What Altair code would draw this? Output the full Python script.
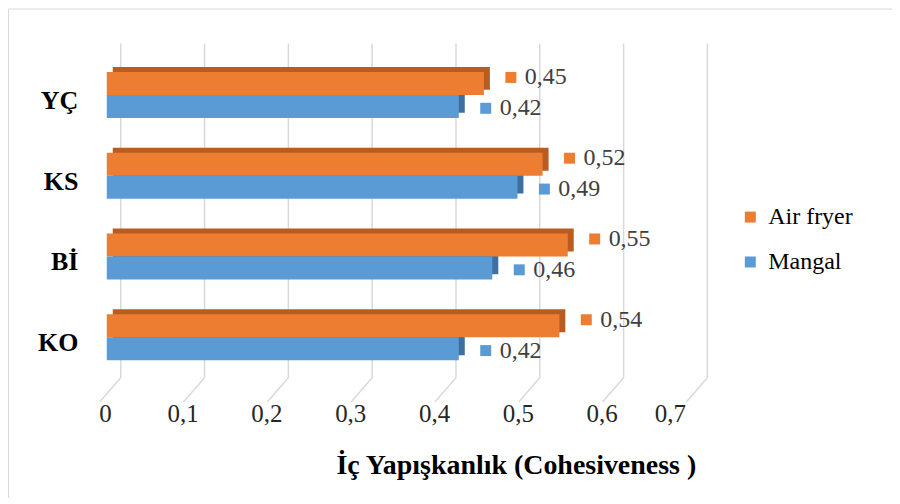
import altair as alt
import pandas as pd

categories = ["YÇ", "KS", "Bİ", "KO"]
air_fryer = [0.45, 0.52, 0.55, 0.54]
mangal = [0.42, 0.49, 0.46, 0.42]
series = ["Air fryer", "Mangal"]
tick_values = [0, 0.1, 0.2, 0.3, 0.4, 0.5, 0.6, 0.7]
x_title = "İç Yapışkanlık (Cohesiveness )"

rows = []
for c, a, m in zip(categories, air_fryer, mangal):
    rows.append({"cat": c, "series": "Air fryer", "v": a})
    rows.append({"cat": c, "series": "Mangal", "v": m})
df = pd.DataFrame(rows)
grid_df = pd.DataFrame({"v": tick_values})
one_df = pd.DataFrame({"a": [0]})

FONT = "Liberation Serif"
FRONT = ["#ED7D31", "#5B9BD5"]
DARK = ["#B85C22", "#3E6F9E"]

xscale = alt.Scale(domain=[0, 0.7], nice=False, zero=True)
yscale = alt.Scale(paddingInner=0.43, paddingOuter=0.315)

base = alt.Chart(df)

front_bars = base.mark_bar().encode(
    x=alt.X("v:Q", scale=xscale,
            axis=alt.Axis(values=tick_values, format=".1~f",
                          labelExpr="replace(datum.label, '.', ',')",
                          labelFont=FONT, labelFontSize=25, labelColor="#262626",
                          labelPadding=16, labelOffset=-8, ticks=False, tickSize=0,
                          domain=False, grid=False,
                          title=x_title, titleFont=FONT, titleFontSize=28,
                          titleFontWeight="bold", titleColor="#000000",
                          titleX=410, titleY=80, titleBaseline="middle",
                          titleAnchor="middle", titleAlign="center")),
    y=alt.Y("cat:N", sort=categories, scale=yscale,
            axis=alt.Axis(title=None, labelFont=FONT, labelFontSize=26,
                          labelFontWeight="bold", labelColor="#000000",
                          labelPadding=29, labelOffset=6, ticks=False, tickSize=0,
                          domain=False, grid=False)),
    yOffset=alt.YOffset("series:N", sort=series,
                        scale=alt.Scale(paddingInner=0, paddingOuter=0)),
    color=alt.Color("series:N", scale=alt.Scale(domain=series, range=FRONT),
                    legend=alt.Legend(orient="none", legendX=633, legendY=159,
                                      title=None, labelFont=FONT, labelFontSize=24,
                                      labelColor="#000000", symbolType="square",
                                      symbolSize=121, symbolStrokeWidth=0,
                                      rowPadding=21, labelOffset=6)),
)

border = alt.Chart(one_df).mark_rect(
    fillOpacity=0, stroke="#D9D9D9", strokeWidth=1
).encode(
    x=alt.value(-98.5), x2=alt.value(2000), y=alt.value(-37.5), y2=alt.value(2000)
)

grid_v = alt.Chart(grid_df).mark_rule(
    color="#D9D9D9", strokeWidth=1.5, xOffset=14
).encode(
    x=alt.X("v:Q", scale=xscale),
    y=alt.value(-3), y2=alt.value(332),
)

grid_s = alt.Chart(grid_df).mark_rule(
    color="#D9D9D9", strokeWidth=1.5, xOffset=14, x2Offset=-7
).encode(
    x=alt.X("v:Q", scale=xscale),
    x2=alt.X2("v:Q"),
    y=alt.value(332), y2=alt.value(356),
)

dark_bars = base.mark_bar(xOffset=6, x2Offset=2).encode(
    x=alt.X("v:Q", scale=xscale),
    y=alt.Y("cat:N", sort=categories, scale=yscale),
    yOffset=alt.YOffset("series:N", sort=series,
                        scale=alt.Scale(range=[-5, 41], paddingInner=0, paddingOuter=0)),
    color=alt.Color("series:N", scale=alt.Scale(domain=series, range=DARK), legend=None),
)

label_layers = []
for s, col, bp in [("Air fryer", FRONT[0], 0.12), ("Mangal", FRONT[1], 0.79)]:
    sub = base.transform_filter(alt.datum.series == s)
    sq = sub.mark_square(size=121, xOffset=27, color=col, opacity=1).encode(
        x=alt.X("v:Q", scale=xscale),
        y=alt.Y("cat:N", sort=categories, scale=yscale, bandPosition=bp),
    )
    tx = sub.transform_calculate(
        lab="replace(format(datum.v, '.2f'), '.', ',')"
    ).mark_text(xOffset=41, align="left", baseline="middle", font=FONT,
                fontSize=24, color="#404040").encode(
        x=alt.X("v:Q", scale=xscale),
        y=alt.Y("cat:N", sort=categories, scale=yscale, bandPosition=bp),
        text="lab:N",
    )
    label_layers += [sq, tx]

chart = alt.layer(
    border, grid_v, grid_s, dark_bars, front_bars, *label_layers
).resolve_scale(
    yOffset="independent", color="independent"
).properties(
    width=588, height=340,
    padding={"left": 99, "top": 38, "right": 199, "bottom": 112},
    autosize=alt.AutoSizeParams(type="none"),
    background="white",
).configure_view(stroke=None)

chart.save("out.html", embed_options={"renderer": "svg", "actions": False})
